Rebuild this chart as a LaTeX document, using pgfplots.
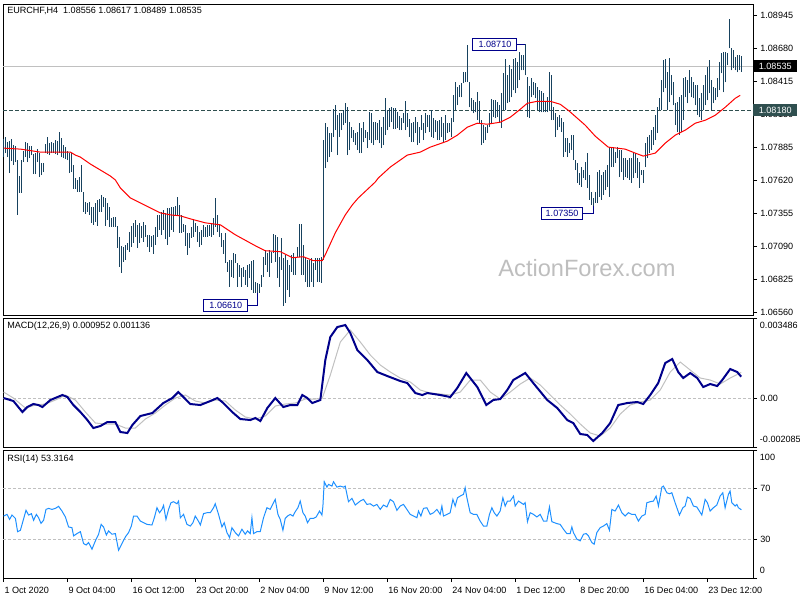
\documentclass[border=0pt]{standalone}
\usepackage{pgfplots}
\usepackage{pgfplotstable}
\pgfplotsset{compat=1.18}
\usepackage{fontspec}
\setmainfont{Liberation Sans}
\definecolor{barc}{RGB}{23,66,95}
\definecolor{macdc}{RGB}{0,0,139}
\definecolor{rsic}{RGB}{30,144,255}
\definecolor{lvl}{RGB}{192,192,192}
\definecolor{dsg}{RGB}{47,79,79}
\definecolor{wm}{RGB}{190,190,190}
\definecolor{lab}{RGB}{0,0,139}
\newcommand{\lf}{\fontsize{6.8}{8}\selectfont}

\pgfplotstableread{
h l
1.07948 1.07804
1.07964 1.07836
1.07924 1.07804
1.07932 1.07676
1.07948 1.07772
1.07900 1.07740
1.07892 1.07764
1.07780 1.07340
1.07652 1.07516
1.07780 1.07516
1.07852 1.07764
1.07924 1.07804
1.07916 1.07764
1.07892 1.07796
1.07892 1.07820
1.07828 1.07668
1.07836 1.07668
1.07868 1.07764
1.07836 1.07644
1.07756 1.07660
1.07756 1.07684
1.07908 1.07836
1.07964 1.07828
1.07916 1.07820
1.07924 1.07836
1.07916 1.07836
1.07940 1.07828
1.07932 1.07820
1.08004 1.07836
1.07956 1.07804
1.07900 1.07796
1.07884 1.07788
1.07852 1.07780
1.07836 1.07676
1.07836 1.07684
1.07740 1.07548
1.07636 1.07548
1.07620 1.07524
1.07644 1.07524
1.07740 1.07524
1.07524 1.07364
1.07444 1.07348
1.07436 1.07364
1.07444 1.07340
1.07404 1.07276
1.07404 1.07260
1.07436 1.07284
1.07460 1.07252
1.07468 1.07364
1.07500 1.07364
1.07484 1.07404
1.07476 1.07252
1.07436 1.07300
1.07404 1.07244
1.07316 1.07244
1.07324 1.07244
1.07324 1.07244
1.07252 1.07076
1.07164 1.06924
1.07092 1.06876
1.07084 1.06964
1.07100 1.06980
1.07116 1.07060
1.07204 1.07044
1.07252 1.07084
1.07276 1.07116
1.07300 1.07164
1.07260 1.07076
1.07276 1.07116
1.07252 1.07156
1.07284 1.07124
1.07260 1.07164
1.07180 1.07084
1.07180 1.07044
1.07172 1.07084
1.07180 1.07028
1.07244 1.07100
1.07340 1.07164
1.07340 1.07220
1.07364 1.07180
1.07380 1.07220
1.07356 1.07148
1.07396 1.07100
1.07396 1.07164
1.07404 1.07220
1.07404 1.07204
1.07412 1.07340
1.07484 1.07340
1.07420 1.07196
1.07340 1.07196
1.07268 1.07204
1.07260 1.07092
1.07196 1.07020
1.07196 1.07076
1.07244 1.07156
1.07300 1.07164
1.07276 1.07204
1.07252 1.07124
1.07204 1.07084
1.07220 1.07100
1.07260 1.07164
1.07244 1.07164
1.07260 1.07164
1.07260 1.07172
1.07276 1.07164
1.07316 1.07180
1.07476 1.07244
1.07340 1.07204
1.07260 1.07164
1.07196 1.07084
1.07140 1.07028
1.07196 1.06956
1.06964 1.06884
1.06980 1.06764
1.06980 1.06844
1.07036 1.06836
1.07028 1.06956
1.06956 1.06764
1.06940 1.06844
1.06916 1.06764
1.06924 1.06844
1.06900 1.06780
1.06940 1.06764
1.06948 1.06836
1.06972 1.06740
1.06980 1.06716
1.06804 1.06716
1.06796 1.06716
1.06788 1.06716
1.06860 1.06764
1.07004 1.06844
1.07060 1.06940
1.07036 1.06884
1.07060 1.06844
1.07044 1.06956
1.07188 1.07036
1.07180 1.06964
1.07164 1.06836
1.07004 1.06764
1.07156 1.06900
1.06996 1.06610
1.07020 1.06636
1.06980 1.06740
1.06940 1.06684
1.07020 1.06884
1.07036 1.06860
1.07004 1.06860
1.07084 1.07004
1.07268 1.07004
1.07268 1.06860
1.07100 1.06860
1.06996 1.06804
1.06980 1.06764
1.06980 1.06764
1.06996 1.06804
1.06956 1.06764
1.06996 1.06900
1.06996 1.06804
1.06996 1.06804
1.07004 1.06796
1.07940 1.06980
1.08076 1.07716
1.08044 1.07764
1.07996 1.07804
1.07996 1.07844
1.08188 1.07964
1.08220 1.08020
1.08140 1.07820
1.08156 1.07964
1.08156 1.08020
1.08180 1.08060
1.08236 1.08076
1.08204 1.07820
1.08084 1.07860
1.08044 1.07956
1.08020 1.07924
1.07996 1.07900
1.08004 1.07860
1.08076 1.07836
1.08036 1.07836
1.08084 1.07924
1.08020 1.07956
1.08004 1.07876
1.08164 1.07940
1.08156 1.07916
1.08084 1.07900
1.08084 1.07940
1.08076 1.07940
1.08100 1.07916
1.08044 1.07876
1.08124 1.07900
1.08276 1.07980
1.08180 1.08020
1.08196 1.08044
1.08204 1.08084
1.08196 1.08028
1.08196 1.08028
1.08164 1.08036
1.08132 1.08020
1.08116 1.08020
1.08156 1.08076
1.08252 1.08020
1.08156 1.08044
1.08108 1.07964
1.08076 1.07924
1.08084 1.07924
1.08124 1.07996
1.08084 1.07900
1.08044 1.07916
1.08140 1.08020
1.08076 1.07940
1.08156 1.07996
1.08140 1.08044
1.08140 1.08004
1.08180 1.07964
1.08116 1.07956
1.08100 1.08004
1.08092 1.07940
1.08100 1.07940
1.08124 1.07964
1.08076 1.07924
1.08140 1.07940
1.08076 1.07996
1.08076 1.08004
1.08116 1.07964
1.08300 1.08084
1.08404 1.08180
1.08364 1.08220
1.08380 1.08284
1.08396 1.08284
1.08484 1.08396
1.08484 1.08404
1.08708 1.08404
1.08404 1.08204
1.08276 1.08172
1.08260 1.08156
1.08244 1.08164
1.08324 1.08100
1.08252 1.08076
1.08100 1.07900
1.08060 1.07916
1.08044 1.07940
1.08060 1.07996
1.08156 1.08044
1.08268 1.08076
1.08260 1.08124
1.08260 1.08116
1.08244 1.08124
1.08220 1.08084
1.08316 1.08036
1.08476 1.08180
1.08588 1.08180
1.08460 1.08236
1.08540 1.08244
1.08508 1.08284
1.08588 1.08340
1.08596 1.08316
1.08564 1.08356
1.08644 1.08420
1.08620 1.08500
1.08620 1.08500
1.08710 1.08460
1.08444 1.08124
1.08372 1.08116
1.08436 1.08284
1.08404 1.08300
1.08396 1.08276
1.08364 1.08180
1.08340 1.08164
1.08332 1.08164
1.08316 1.08164
1.08244 1.08164
1.08284 1.08164
1.08484 1.08180
1.08460 1.08100
1.08204 1.08100
1.08156 1.07964
1.08124 1.08020
1.08140 1.08044
1.08116 1.08004
1.08084 1.07804
1.07956 1.07844
1.07956 1.07804
1.07916 1.07836
1.07980 1.07860
1.07980 1.07780
1.07780 1.07700
1.07756 1.07596
1.07676 1.07580
1.07724 1.07564
1.07700 1.07636
1.07764 1.07620
1.07836 1.07556
1.07660 1.07460
1.07524 1.07420
1.07476 1.07412
1.07524 1.07436
1.07684 1.07436
1.07700 1.07484
1.07660 1.07460
1.07684 1.07500
1.07700 1.07540
1.07740 1.07564
1.07884 1.07484
1.07884 1.07724
1.07884 1.07724
1.07844 1.07756
1.07884 1.07796
1.07860 1.07644
1.07860 1.07684
1.07796 1.07620
1.07796 1.07644
1.07780 1.07636
1.07796 1.07620
1.07796 1.07596
1.07844 1.07636
1.07836 1.07676
1.07796 1.07636
1.07764 1.07556
1.07700 1.07660
1.07700 1.07596
1.07916 1.07724
1.07964 1.07796
1.07980 1.07836
1.08020 1.07860
1.08044 1.07900
1.08140 1.07940
1.08204 1.07996
1.08276 1.08180
1.08420 1.08180
1.08580 1.08324
1.08588 1.08356
1.08484 1.08180
1.08596 1.08244
1.08460 1.08300
1.08404 1.08220
1.08236 1.08060
1.08244 1.08004
1.08284 1.07980
1.08300 1.08004
1.08436 1.08100
1.08444 1.08284
1.08420 1.08236
1.08500 1.08316
1.08444 1.08284
1.08404 1.08276
1.08380 1.08220
1.08380 1.08140
1.08276 1.08124
1.08316 1.08100
1.08380 1.08180
1.08460 1.08220
1.08524 1.08260
1.08580 1.08316
1.08420 1.08180
1.08364 1.08236
1.08356 1.08260
1.08436 1.08284
1.08564 1.08340
1.08636 1.08476
1.08644 1.08324
1.08644 1.08404
1.08636 1.08540
1.08916 1.08676
1.08684 1.08500
1.08660 1.08516
1.08604 1.08500
1.08620 1.08484
1.08620 1.08500
1.08617 1.08489
}\bars

\pgfplotsset{mt/.style={
  scale only axis, width=562.5pt, xmin=-0.3, xmax=374.8,
  axis line style={line width=0.75pt},
  tick align=outside, ytick pos=right, yticklabel pos=right,
  major tick length=3pt, tick style={black, line width=0.6pt},
  ticklabel style={font=\lf},
  yticklabel style={anchor=west, xshift=-1pt},
  scaled ticks=false,
  /pgf/number format/assume math mode=true,
}}

\begin{document}
\begin{tikzpicture}
\useasboundingbox (0,0) rectangle (600pt,-450pt);
% ---------------- price panel ----------------
\begin{axis}[mt, at={(2.25pt,-3pt)}, anchor=north west, height=233.25pt,
  ymin=1.065359, ymax=1.090333, xtick=\empty,
  ytick={1.0656,1.06825,1.0709,1.07355,1.0762,1.07885,1.0815,1.08415,1.0868,1.08945},
  yticklabels={1.06560,1.06825,1.07090,1.07355,1.07620,1.07885,1.08150,1.08415,1.08680,1.08945}]
\addplot[lvl, line width=0.75pt, forget plot] coordinates {(-0.3,1.08535) (374.8,1.08535)};
\addplot[dsg, line width=0.75pt, dash pattern=on 3pt off 1.5pt, forget plot] coordinates {(-0.3,1.0818) (374.8,1.0818)};
\addplot[barc, line width=0.75pt, only marks, mark=*, mark size=0pt,
  mark options={draw opacity=0, fill opacity=0},
  error bars/.cd, y dir=plus, y explicit, error mark=none,
  error bar style={barc, line width=0.75pt, draw opacity=1}]
  table[x expr=\coordindex, y=l, y error expr=\thisrow{h}-\thisrow{l}] {\bars};
\addplot[red, line width=0.75pt] coordinates {
(0,1.07876)(8.4,1.07868)(18.4,1.07844)(25.9,1.07844)(33.4,1.07844)(35.9,1.07820)(38.4,1.07804)(43.4,1.07748)(48.4,1.07700)(53.4,1.07652)(55.9,1.07620)(58.4,1.07556)(63.4,1.07476)(68.4,1.07436)(73.4,1.07396)(78.4,1.07356)(83.4,1.07340)(88.4,1.07332)(93.4,1.07308)(100.9,1.07276)(108.4,1.07260)(115.9,1.07180)(125.9,1.07092)(130.9,1.07052)(138.4,1.07044)(144.4,1.06996)(149.9,1.07004)(154.9,1.06972)(159.4,1.06972)(160.9,1.07020)(165.9,1.07196)(170.9,1.07340)(174.4,1.07420)(177.4,1.07476)(185.9,1.07604)(187.4,1.07636)(193.4,1.07724)(201.9,1.07820)(208.4,1.07844)(213.4,1.07884)(221.9,1.07932)(226.9,1.07980)(231.9,1.08044)(236.9,1.08076)(241.9,1.08068)(248.4,1.08084)(253.4,1.08124)(258.4,1.08188)(261.9,1.08236)(266.9,1.08252)(273.4,1.08252)(278.4,1.08228)(282.4,1.08180)(290.9,1.08060)(295.9,1.07972)(302.4,1.07884)(310.9,1.07868)(315.9,1.07836)(319.9,1.07812)(325.9,1.07836)(330.9,1.07916)(335.9,1.07980)(340.9,1.08020)(345.9,1.08076)(350.9,1.08100)(355.9,1.08140)(360.9,1.08204)(365.9,1.08276)(368.4,1.08300)};
% high / low labels
\node[draw=lab, fill=white, text=lab, font=\lf, line width=0.75pt, inner sep=0pt, minimum width=33pt, minimum height=9pt, anchor=east] (hA) at (axis cs:257,1.0871) {1.08710};
\draw[lab, line width=0.75pt] (hA.east) -- (axis cs:261,1.0871);
\node[draw=lab, fill=white, text=lab, font=\lf, line width=0.75pt, inner sep=0pt, minimum width=33pt, minimum height=9pt, anchor=east] (lA) at (axis cs:122.4,1.0661) {1.06610};
\draw[lab, line width=0.75pt] (lA.east) -- (axis cs:127,1.0661) -- (axis cs:127,1.06716);
\node[draw=lab, fill=white, text=lab, font=\lf, line width=0.75pt, inner sep=0pt, minimum width=31pt, minimum height=9pt, anchor=east] (lB) at (axis cs:289.9,1.0735) {1.07350};
\draw[lab, line width=0.75pt] (lB.east) -- (axis cs:295,1.0735) -- (axis cs:295,1.07412);
\coordinate (cur) at (axis cs:374.8,1.08535);
\coordinate (lvlc) at (axis cs:374.8,1.0818);
\end{axis}
\node[anchor=west, fill=black, text=white, font=\lf, inner sep=0pt, minimum width=33pt, minimum height=9pt] at (cur) {1.08535};
\node[anchor=west, fill=dsg, text=white, font=\lf, inner sep=0pt, minimum width=33pt, minimum height=9pt] at (lvlc) {1.08180};
\node[anchor=west, font=\lf, inner sep=0pt] at (5.25pt,-8.25pt) {EURCHF,H4\ \ 1.08556 1.08617 1.08489 1.08535};
\node[text=wm, font=\fontsize{17.7}{20}\selectfont] at (440.25pt,-201pt) {ActionForex.com};
% ---------------- MACD panel ----------------
\begin{axis}[mt, at={(2.25pt,-238.5pt)}, anchor=north west, height=96.75pt,
  ymin=-0.002085, ymax=0.003486, xtick=\empty,
  ytick={0}, yticklabels={0.00},
  extra y ticks={-0.002085,0.003486}, extra y tick labels={}]
\addplot[lvl, line width=0.75pt, dash pattern=on 2.25pt off 1.5pt, forget plot] coordinates {(-0.3,0) (374.8,0)};
\addplot[lvl, line width=0.75pt] coordinates {
(0,0.000289)(4.9,0.000030)(10.9,-0.000402)(15.9,-0.000272)(20.9,-0.000229)(25.9,-0.000056)(30.9,0.000160)(35.9,-0.000056)(40.9,-0.000574)(45.9,-0.001049)(50.9,-0.001092)(55.9,-0.001092)(60.9,-0.001265)(65.9,-0.001265)(70.9,-0.000877)(75.9,-0.000617)(80.9,-0.000272)(85.9,0.000030)(90.9,0.000160)(95.9,-0.000099)(100.9,-0.000186)(105.9,-0.000056)(110.9,-0.000099)(115.9,-0.000488)(120.9,-0.000790)(125.9,-0.000877)(130.9,-0.000747)(135.9,-0.000315)(140.9,-0.000229)(145.9,-0.000186)(150.9,-0.000013)(155.9,-0.000013)(159.4,0.000030)(163.4,0.001023)(168.4,0.002448)(173.4,0.002966)(178.4,0.002448)(183.4,0.001887)(188.4,0.001455)(193.4,0.001153)(198.4,0.000894)(203.4,0.000721)(208.4,0.000376)(213.4,0.000246)(218.4,0.000203)(223.4,0.000160)(228.4,0.000289)(233.4,0.000807)(238.4,0.000807)(243.4,0.000289)(248.4,-0.000013)(253.4,0.000289)(258.4,0.000635)(263.4,0.000894)(268.4,0.000592)(273.4,0.000160)(278.4,-0.000272)(283.4,-0.000661)(288.4,-0.001092)(293.4,-0.001481)(298.4,-0.001611)(303.4,-0.001265)(308.4,-0.000661)(313.4,-0.000272)(318.4,-0.000142)(323.4,-0.000056)(328.4,0.000376)(333.4,0.001153)(338.4,0.001585)(343.4,0.001239)(348.4,0.000894)(353.4,0.000807)(358.4,0.000635)(363.4,0.000894)(368.9,0.001136)};
\addplot[macdc, line width=1.5pt] coordinates {
(0,0.000030)(4.9,-0.000099)(9.4,-0.000574)(11.9,-0.000358)(14.9,-0.000229)(17.4,-0.000272)(19.4,-0.000358)(23.4,-0.000056)(29.4,0.000160)(31.9,0.000073)(34.9,-0.000272)(38.4,-0.000574)(41.9,-0.000920)(44.9,-0.001265)(48.4,-0.001179)(51.9,-0.001006)(55.9,-0.001006)(58.4,-0.001438)(61.9,-0.001481)(64.4,-0.001136)(68.4,-0.000747)(74.4,-0.000617)(79.9,-0.000186)(84.4,0.000030)(87.4,0.000289)(89.4,0.000117)(93.4,-0.000229)(98.4,-0.000272)(103.4,-0.000099)(106.9,0.000030)(109.9,-0.000186)(114.9,-0.000617)(118.4,-0.000877)(123.4,-0.000920)(125.9,-0.000833)(128.4,-0.000963)(131.9,-0.000402)(135.9,0.000030)(139.9,-0.000358)(143.4,-0.000272)(146.9,-0.000272)(149.4,0.000160)(151.9,0.000030)(154.4,-0.000186)(158.4,-0.000056)(160.9,0.001671)(163.4,0.002664)(166.9,0.003096)(170.9,0.003182)(173.4,0.002837)(176.9,0.002103)(181.9,0.001671)(186.9,0.001153)(191.9,0.000980)(198.4,0.000764)(201.9,0.000678)(205.9,0.000246)(209.4,0.000160)(211.9,0.000246)(218.4,0.000160)(223.4,0.000073)(226.9,0.000462)(231.4,0.001110)(236.9,0.000505)(241.4,-0.000272)(244.9,-0.000056)(248.4,-0.000013)(251.9,0.000376)(254.9,0.000807)(260.9,0.001110)(264.9,0.000678)(271.9,-0.000056)(276.9,-0.000402)(281.9,-0.000920)(284.9,-0.001049)(288.4,-0.001524)(291.9,-0.001567)(294.9,-0.001827)(299.4,-0.001481)(303.4,-0.001049)(307.4,-0.000272)(311.9,-0.000186)(316.9,-0.000142)(319.9,-0.000229)(323.4,0.000160)(327.4,0.000678)(330.9,0.001542)(334.4,0.001714)(337.4,0.001153)(339.9,0.000894)(343.4,0.001110)(346.9,0.000894)(349.9,0.000505)(353.4,0.000635)(356.9,0.000548)(359.4,0.000807)(363.4,0.001282)(366.9,0.001153)(368.9,0.000952)};
\coordinate (mtop) at (rel axis cs:1,1);
\coordinate (mbot) at (rel axis cs:1,0);
\end{axis}
\node[anchor=north west, font=\lf, inner sep=0pt] at ([xshift=5pt,yshift=-3pt]mtop) {0.003486};
\node[anchor=south west, font=\lf, inner sep=0pt] at ([xshift=5pt,yshift=3pt]mbot) {-0.002085};
\node[anchor=west, font=\lf, inner sep=0pt] at (5.25pt,-244.5pt) {MACD(12,26,9) 0.000952 0.001136};
% ---------------- RSI panel ----------------
\begin{axis}[mt, at={(2.25pt,-337.5pt)}, anchor=north west, height=96pt,
  ymin=0, ymax=100, xtick pos=bottom,
  xtick={0,32,64,96,128,160,192,224,256,288,320,352},
  xticklabels={1 Oct 2020,9 Oct 04:00,16 Oct 12:00,23 Oct 20:00,2 Nov 04:00,9 Nov 12:00,16 Nov 20:00,24 Nov 04:00,1 Dec 12:00,8 Dec 20:00,16 Dec 04:00,23 Dec 12:00},
  xticklabel style={anchor=north west, inner xsep=0.5pt},
  ytick={30,70}, yticklabels={30,70},
  extra y ticks={0,100}, extra y tick labels={}]
\addplot[lvl, line width=0.75pt, dash pattern=on 2.25pt off 1.5pt, forget plot] coordinates {(-0.3,30) (374.8,30)};
\addplot[lvl, line width=0.75pt, dash pattern=on 2.25pt off 1.5pt, forget plot] coordinates {(-0.3,70) (374.8,70)};
\addplot[rsic, line width=0.75pt] coordinates {
(0,48.4)(1.7,49.7)(3.0,45.8)(4.2,49.2)(5.9,46.6)(7.0,36.2)(8.4,37.3)(9.7,44.5)(11.2,52.9)(12.5,49.2)(13.9,50.3)(15.0,45.1)(16.4,49.7)(17.5,47.1)(18.7,42.7)(20.0,45.1)(21.2,53.6)(22.5,54.4)(24.2,53.6)(25.9,54.4)(27.5,56.0)(29.2,52.3)(30.9,47.7)(32.5,39.9)(34.2,39.3)(35.0,32.9)(36.7,34.7)(38.4,36.2)(40.0,26.9)(41.3,25.8)(42.5,27.7)(44.2,22.5)(45.9,29.0)(47.5,34.2)(48.8,41.9)(50.0,39.9)(51.4,33.6)(52.5,36.8)(54.2,34.2)(55.9,34.7)(57.5,21.7)(59.2,26.9)(60.9,32.1)(62.5,35.5)(63.9,40.6)(65.0,48.4)(66.7,48.4)(68.4,44.5)(70.0,43.2)(71.7,41.9)(74.2,41.4)(75.4,47.1)(76.7,54.9)(78.0,51.0)(79.2,53.6)(80.0,56.7)(81.2,45.8)(82.5,53.6)(83.7,58.8)(85.0,59.6)(86.7,58.0)(87.5,60.1)(88.4,47.1)(90.0,49.7)(91.7,41.9)(93.4,40.6)(94.7,43.2)(95.85,48.4)(97.2,45.1)(98.4,41.4)(100.0,50.3)(101.7,51.0)(103.4,51.0)(105.0,54.9)(105.85,58.0)(107.5,49.7)(109.2,39.9)(110.35,43.2)(111.7,35.5)(113.0,31.6)(114.2,39.3)(115.85,35.5)(117.5,32.9)(119.2,38.1)(120.85,34.2)(122.0,36.8)(123.35,34.7)(124.2,47.1)(125.0,34.7)(126.7,36.2)(128.35,36.2)(130.0,47.1)(131.7,54.9)(133.35,53.6)(134.7,58.0)(135.85,61.4)(137.2,49.7)(138.35,45.8)(139.7,37.3)(140.85,46.6)(142.0,48.4)(143.35,49.7)(144.7,48.4)(145.85,51.8)(147.2,54.9)(148.35,60.1)(149.7,51.0)(150.85,48.4)(152.0,43.2)(153.35,46.6)(155.0,46.6)(156.35,47.7)(158.0,52.3)(159.2,49.2)(159.7,56.2)(160.35,75.2)(161.7,71.0)(162.5,73.1)(164.2,71.8)(165.0,75.2)(166.7,71.0)(168.35,71.8)(170.0,71.0)(170.85,71.8)(172.5,59.6)(174.2,62.2)(175.85,57.0)(178.35,60.1)(180.0,61.4)(181.7,57.5)(183.35,58.0)(185.0,56.2)(186.7,57.5)(188.35,53.6)(190.0,57.0)(191.7,55.5)(193.35,61.4)(195.0,59.6)(196.7,52.9)(198.35,56.2)(200.0,57.5)(201.7,53.6)(203.35,49.7)(205.0,48.4)(206.7,47.1)(207.5,52.3)(208.7,48.4)(210.0,54.4)(211.7,54.9)(213.35,49.7)(215.0,51.0)(216.7,53.6)(218.35,49.7)(219.2,56.2)(220.0,48.4)(221.7,49.7)(223.35,51.0)(224.7,61.4)(225.85,56.2)(227.0,62.7)(228.35,64.0)(230.0,65.3)(230.85,70.5)(231.7,62.7)(233.35,51.0)(235.0,49.7)(236.7,49.7)(238.35,44.5)(240.0,40.6)(241.7,40.6)(243.0,49.7)(244.2,54.9)(245.35,51.0)(246.7,48.4)(248.35,52.3)(249.7,62.7)(250.85,56.2)(252.0,60.1)(253.35,60.1)(255.0,64.0)(255.85,56.2)(257.5,60.1)(260.0,57.5)(260.85,58.8)(262.0,44.0)(263.35,51.0)(265.0,49.7)(266.7,47.7)(268.35,49.7)(270.0,44.5)(271.7,44.5)(273.0,55.5)(274.2,44.0)(276.7,42.5)(278.35,41.9)(280.0,38.1)(281.7,34.7)(283.35,34.7)(284.2,39.9)(285.0,35.5)(286.7,30.3)(288.35,29.0)(290.0,34.2)(291.35,34.7)(292.5,32.9)(294.2,27.7)(295.35,26.4)(296.7,35.5)(298.35,39.3)(300.0,40.6)(301.7,42.5)(303.0,37.3)(304.2,53.6)(305.85,52.3)(307.5,57.0)(309.2,51.0)(310.85,48.4)(312.5,51.0)(314.2,49.7)(315.85,49.7)(317.5,44.5)(319.2,48.4)(320.85,49.7)(321.7,58.8)(323.35,59.6)(325.0,60.1)(326.35,64.0)(327.5,56.2)(329.2,71.0)(330.0,71.8)(331.7,66.6)(333.0,65.8)(334.2,66.6)(335.85,58.8)(338.0,49.2)(339.7,54.9)(340.85,56.2)(342.0,63.2)(343.35,62.2)(345.0,56.2)(346.7,55.5)(349.2,49.2)(350.85,61.4)(352.0,58.8)(353.35,52.3)(355.0,54.9)(356.7,57.0)(358.35,64.0)(359.7,66.6)(360.85,54.9)(362.5,65.3)(363.35,67.9)(364.2,58.8)(365.85,56.2)(366.7,57.5)(367.5,54.9)(369.0,53.3)};
\coordinate (rtop) at (rel axis cs:1,1);
\coordinate (rbot) at (rel axis cs:1,0);
\end{axis}
\node[anchor=north west, font=\lf, inner sep=0pt] at ([xshift=5pt,yshift=-3pt]rtop) {100};
\node[anchor=south west, font=\lf, inner sep=0pt] at ([xshift=5pt,yshift=3pt]rbot) {0};
\node[anchor=west, font=\lf, inner sep=0pt] at (5.25pt,-344.25pt) {RSI(14) 53.3164};
\end{tikzpicture}
\end{document}
